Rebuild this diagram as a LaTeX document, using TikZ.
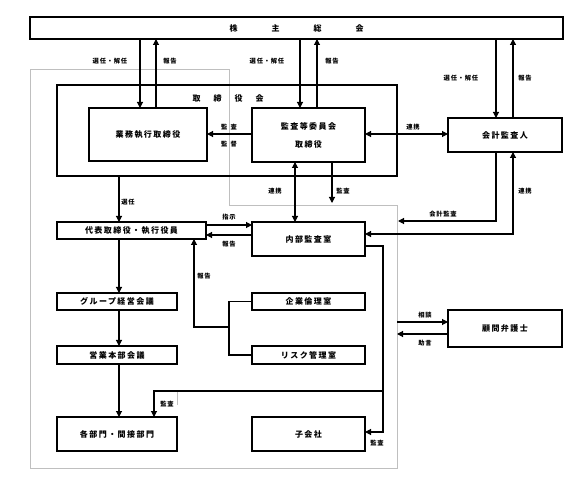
\documentclass[tikz,border=0pt]{standalone}
\usepackage{fontspec}
\setmainfont{Noto Sans CJK JP}
\usetikzlibrary{arrows.meta}
\begin{document}
\begin{tikzpicture}[x=1pt,y=-1pt,
  box/.style={draw,line width=1.1pt,inner sep=0pt,outer sep=0pt,
    font=\fontsize{8}{9}\selectfont\bfseries\addfontfeature{LetterSpace=18}},
  lbl/.style={inner sep=0pt,font=\fontsize{6.3}{7}\selectfont\bfseries\addfontfeature{LetterSpace=12}},
  conn/.style={line width=1.1pt},
  arr/.style={conn,-{Triangle[length=6pt,width=6pt]}},
  darr/.style={conn,{Triangle[length=6pt,width=6pt]}-{Triangle[length=6pt,width=6pt]}},
  frame/.style={draw=black!25,line width=0.8pt}]
\useasboundingbox (0,0) rectangle (581,486);
% gray frame
\draw[frame] (30,69) -- (229,69) -- (229,205) -- (397,205) -- (397,468) -- (30,468) -- cycle;
\draw[frame] (177,391) -- (177,405);
% board frame
\node[box,minimum width=340pt,minimum height=91pt] (bod) at (227,130.5) {};
\node[lbl,font=\fontsize{8}{9}\selectfont\bfseries] (bodl) at (228,98) {取\hspace{13pt}締\hspace{13pt}役\hspace{13pt}会};
% nodes
\node[box,minimum width=533pt,minimum height=22pt] (sh) at (296.5,28) {\addfontfeature{LetterSpace=0}株\hspace{34pt}主\hspace{34pt}総\hspace{34pt}会};
\node[box,minimum width=118pt,minimum height=53pt] (exe) at (148,134.5) {業務執行取締役};
\node[box,minimum width=113pt,minimum height=54pt,align=center] (audc) at (308.5,135) {監査等委員会\\[9pt]取締役};
\node[box,minimum width=114pt,minimum height=34pt] (ext) at (505,135) {会計監査人};
\node[box,minimum width=149pt,minimum height=17pt] (rep) at (131.5,230.5) {代表取締役・執行役員};
\node[box,minimum width=113pt,minimum height=34pt] (ia) at (308.5,239) {内部監査室};
\node[box,minimum width=113pt,minimum height=17pt] (eth) at (308.5,301.5) {企業倫理室};
\node[box,minimum width=113pt,minimum height=18pt] (risk) at (308.5,355) {リスク管理室};
\node[box,minimum width=120pt,minimum height=17pt] (grp) at (117,301.5) {グループ経営会議};
\node[box,minimum width=120pt,minimum height=18pt] (biz) at (117,355) {営業本部会議};
\node[box,minimum width=120pt,minimum height=34pt] (dept) at (117,434) {各部門・間接部門};
\node[box,minimum width=113pt,minimum height=34pt] (sub) at (308.5,434) {子会社};
\node[box,minimum width=114pt,minimum height=37pt] (law) at (505,328.5) {顧問弁護士};
% helper coordinates
\coordinate (x140) at (140,0);
\coordinate (x156) at (156,0);
\coordinate (x300) at (300,0);
\coordinate (x317) at (317,0);
\coordinate (x496) at (496,0);
\coordinate (x513) at (513,0);
\coordinate (x119) at (119,0);
\coordinate (x295) at (295,0);
\coordinate (x332) at (332,0);
\coordinate (y134) at (0,134);
\coordinate (y225) at (0,225);
\coordinate (y235) at (0,235);
\coordinate (y234) at (0,234);
\coordinate (y246) at (0,246);
\coordinate (y322) at (0,322);
\coordinate (y334) at (0,334);
\coordinate (y432) at (0,432);
\coordinate (aend) at (332,203);
\coordinate (kend) at (398,221);
\coordinate (ia1) at (383,246);
\coordinate (ia2) at (383,391);
\coordinate (d1) at (154,391);
\coordinate (br1) at (229,301.5);
\coordinate (br2) at (229,327);
\coordinate (br3) at (194,327);
\coordinate (s1) at (397,322);
\coordinate (s2) at (397,334);
% shareholders connectors
\draw[arr] (sh.south -| x140) -- (exe.north -| x140);
\draw[arr] (exe.north -| x156) -- (sh.south -| x156);
\draw[arr] (sh.south -| x300) -- (audc.north -| x300);
\draw[arr] (audc.north -| x317) -- (sh.south -| x317);
\draw[arr] (sh.south -| x496) -- (ext.north -| x496);
\draw[arr] (ext.north -| x513) -- (sh.south -| x513);
% board internal
\draw[arr] (audc.west |- y134) -- (exe.east |- y134);
\draw[darr] (audc.east |- y134) -- (ext.west |- y134);
% downward chain
\draw[arr] (bod.south -| x119) -- (rep.north -| x119);
\draw[arr] (rep.south -| x119) -- (grp.north -| x119);
\draw[arr] (grp.south -| x119) -- (biz.north -| x119);
\draw[arr] (biz.south -| x119) -- (dept.north -| x119);
% rep <-> internal audit
\draw[arr] (rep.east |- y225) -- (ia.west |- y225);
\draw[arr] (ia.west |- y235) -- (rep.east |- y235);
% audit committee to internal audit
\draw[darr] (audc.south -| x295) -- (ia.north -| x295);
\draw[arr] (audc.south -| x332) -- (aend);
% external auditor
\draw[arr] (ext.south -| x496) |- (kend);
\draw[darr] (ia.east |- y234) -| (ext.south -| x513);
% internal audit outputs
\draw[conn] (ia.east |- y246) -- (ia1) -- (ia2);
\draw[arr] (ia2) |- (sub.east |- y432);
\draw[arr] (ia2) -- (d1) -- (dept.north -| d1);
% ethics / risk bracket
\draw[conn] (eth.west) -- (br1) |- (risk.west);
\draw[arr] (br2) -- (br3) -- (rep.south -| br3);
% lawyer
\draw[arr] (s1) -- (law.west |- y322);
\draw[arr] (law.west |- y334) -- (s2);
% labels
\node[lbl] (l1) at (110,61) {選任・解任};
\node[lbl] (l2) at (170,61) {報告};
\node[lbl] (l3) at (267,61) {選任・解任};
\node[lbl] (l4) at (332,61) {報告};
\node[lbl] (l5) at (461,78) {選任・解任};
\node[lbl] (l6) at (525,78) {報告};
\node[lbl] (l7) at (229,127) {監\hspace{3pt}査};
\node[lbl] (l8) at (229,144) {監\hspace{3pt}督};
\node[lbl] (l9) at (413,127) {連携};
\node[lbl] (l10) at (128,202) {選任};
\node[lbl] (l11) at (275,191) {連携};
\node[lbl] (l12) at (343,191) {監査};
\node[lbl] (l13) at (443,214) {会計監査};
\node[lbl] (l14) at (525,191) {連携};
\node[lbl] (l15) at (229,217) {指示};
\node[lbl] (l16) at (229,244) {報告};
\node[lbl] (l17) at (204,276) {報告};
\node[lbl] (l18) at (425,315) {相談};
\node[lbl] (l19) at (425,343) {助言};
\node[lbl] (l20) at (167,404) {監査};
\node[lbl] (l21) at (377,443) {監査};
\end{tikzpicture}
\end{document}
